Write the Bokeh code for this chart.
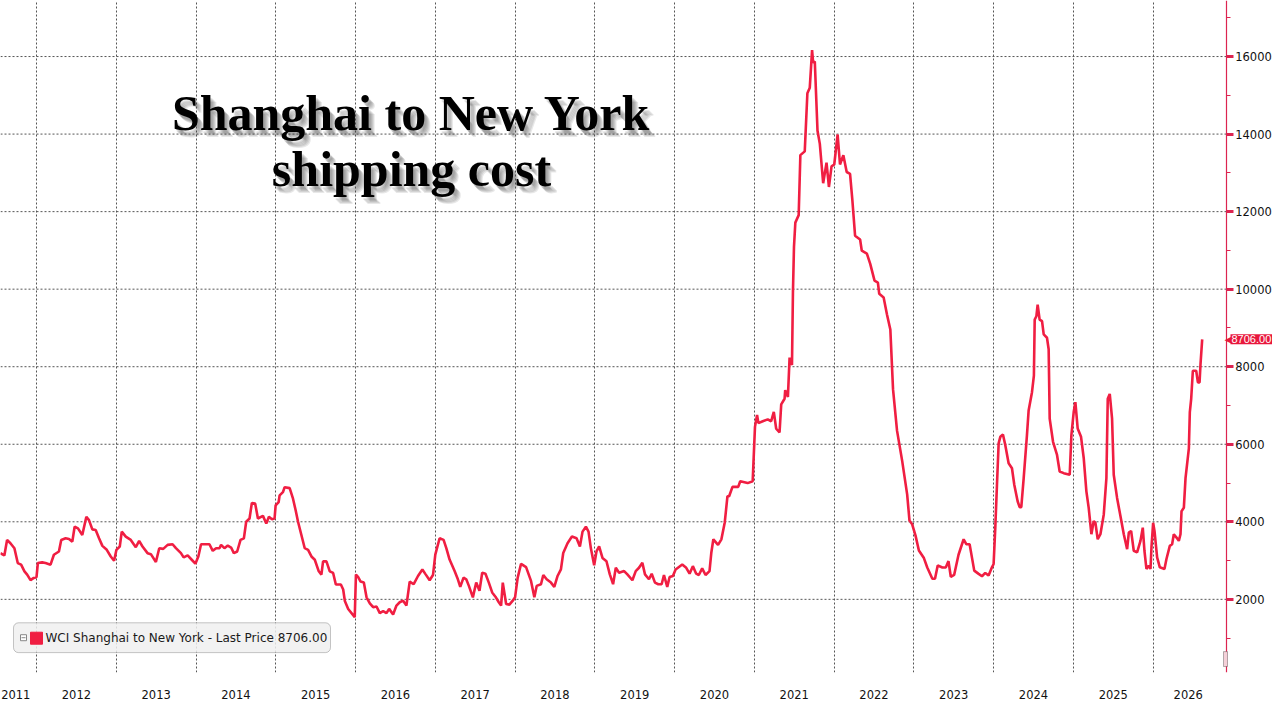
from bokeh.plotting import figure
from bokeh.models import FixedTicker, Range1d, Label, BoxAnnotation
from bokeh.embed import file_html
from bokeh.resources import INLINE
from bokeh.core.properties import value

# ---------------- data (decimal year, USD per FEU) ----------------
years = [
    2011.547, 2011.597, 2011.631, 2011.673, 2011.723, 2011.765, 2011.807, 2011.849, 2011.883, 2011.925,
    2011.966, 2012.000, 2012.017, 2012.071, 2012.113, 2012.176, 2012.218, 2012.281, 2012.310, 2012.365,
    2012.407, 2012.449, 2012.478, 2012.520, 2012.574, 2012.625, 2012.658, 2012.700, 2012.742, 2012.784,
    2012.826, 2012.881, 2012.931, 2012.973, 2013.002, 2013.044, 2013.069, 2013.119, 2013.182, 2013.245,
    2013.287, 2013.329, 2013.392, 2013.434, 2013.497, 2013.539, 2013.589, 2013.644, 2013.706, 2013.748,
    2013.811, 2013.845, 2013.895, 2013.946, 2013.992, 2014.029, 2014.063, 2014.168, 2014.210, 2014.252,
    2014.294, 2014.314, 2014.356, 2014.398, 2014.440, 2014.474, 2014.516, 2014.558, 2014.600, 2014.629,
    2014.671, 2014.700, 2014.742, 2014.776, 2014.839, 2014.881, 2014.914, 2014.952, 2014.985, 2014.998,
    2015.036, 2015.048, 2015.090, 2015.111, 2015.174, 2015.216, 2015.249, 2015.279, 2015.321, 2015.363,
    2015.405, 2015.447, 2015.489, 2015.539, 2015.572, 2015.593, 2015.635, 2015.677, 2015.719, 2015.753,
    2015.816, 2015.845, 2015.866, 2015.908, 2015.990, 2016.005, 2016.033, 2016.063, 2016.104, 2016.138,
    2016.179, 2016.221, 2016.263, 2016.304, 2016.346, 2016.388, 2016.421, 2016.471, 2016.513, 2016.554,
    2016.596, 2016.638, 2016.679, 2016.729, 2016.783, 2016.838, 2016.879, 2016.929, 2016.971, 2017.000,
    2017.054, 2017.104, 2017.138, 2017.179, 2017.242, 2017.283, 2017.313, 2017.354, 2017.388, 2017.421,
    2017.471, 2017.513, 2017.554, 2017.588, 2017.629, 2017.671, 2017.713, 2017.754, 2017.796, 2017.825,
    2017.846, 2017.888, 2017.929, 2017.971, 2018.000, 2018.033, 2018.075, 2018.138, 2018.200, 2018.242,
    2018.271, 2018.325, 2018.354, 2018.396, 2018.450, 2018.492, 2018.533, 2018.575, 2018.604, 2018.658,
    2018.713, 2018.771, 2018.813, 2018.846, 2018.888, 2018.921, 2018.950, 2018.992, 2019.021, 2019.054,
    2019.096, 2019.146, 2019.188, 2019.229, 2019.263, 2019.304, 2019.367, 2019.408, 2019.471, 2019.513,
    2019.554, 2019.596, 2019.629, 2019.679, 2019.713, 2019.754, 2019.796, 2019.838, 2019.867, 2019.908,
    2019.938, 2019.979, 2020.013, 2020.096, 2020.146, 2020.188, 2020.229, 2020.271, 2020.304, 2020.346,
    2020.388, 2020.438, 2020.461, 2020.486, 2020.545, 2020.587, 2020.629, 2020.663, 2020.684, 2020.726,
    2020.798, 2020.823, 2020.916, 2020.979, 2021.008, 2021.034, 2021.051, 2021.105, 2021.168, 2021.211,
    2021.244, 2021.274, 2021.316, 2021.337, 2021.379, 2021.387, 2021.421, 2021.442, 2021.472, 2021.484,
    2021.497, 2021.514, 2021.556, 2021.577, 2021.632, 2021.665, 2021.695, 2021.724, 2021.737, 2021.758,
    2021.792, 2021.821, 2021.863, 2021.905, 2021.935, 2021.968, 2022.002, 2022.044, 2022.074, 2022.116,
    2022.158, 2022.200, 2022.229, 2022.263, 2022.326, 2022.347, 2022.411, 2022.453, 2022.507, 2022.549,
    2022.566, 2022.621, 2022.663, 2022.705, 2022.739, 2022.789, 2022.853, 2022.916, 2022.945, 2022.979,
    2023.021, 2023.063, 2023.126, 2023.168, 2023.232, 2023.265, 2023.299, 2023.358, 2023.400, 2023.434,
    2023.463, 2023.505, 2023.560, 2023.624, 2023.657, 2023.699, 2023.728, 2023.757, 2023.812, 2023.854,
    2023.895, 2023.937, 2023.979, 2024.000, 2024.021, 2024.042, 2024.063, 2024.084, 2024.117, 2024.146,
    2024.188, 2024.230, 2024.259, 2024.301, 2024.326, 2024.347, 2024.377, 2024.418, 2024.439, 2024.481,
    2024.505, 2024.515, 2024.536, 2024.552, 2024.577, 2024.607, 2024.628, 2024.669, 2024.690, 2024.703,
    2024.745, 2024.795, 2024.828, 2024.879, 2024.954, 2024.975, 2025.004, 2025.025, 2025.054, 2025.096,
    2025.130, 2025.163, 2025.192, 2025.226, 2025.255, 2025.276, 2025.305, 2025.339, 2025.381, 2025.414,
    2025.431, 2025.456, 2025.485, 2025.506, 2025.548, 2025.590, 2025.632, 2025.674, 2025.695, 2025.724,
    2025.757, 2025.799, 2025.841, 2025.870, 2025.891, 2025.916, 2025.946, 2025.967, 2025.979, 2026.000,
    2026.017, 2026.050, 2026.084, 2026.142, 2026.167, 2026.209, 2026.238, 2026.259, 2026.293, 2026.322,
    2026.343, 2026.356, 2026.385, 2026.406, 2026.448, 2026.460, 2026.477, 2026.498, 2026.540, 2026.561,
    2026.582, 2026.594, 2026.615,
]
price = [
    3191, 3132, 3532, 3447, 3319, 2936, 2894, 2723, 2638, 2494,
    2553, 2570, 2936, 2953, 2936, 2894, 3149, 3234, 3532, 3574,
    3557, 3489, 3872, 3830, 3659, 4128, 4042, 3804, 3787, 3574,
    3379, 3277, 3106, 2996, 3277, 3362, 3745, 3617, 3532, 3345,
    3506, 3362, 3191, 3166, 2962, 3319, 3302, 3404, 3421, 3319,
    3191, 3081, 3132, 3021, 2919, 3106, 3421, 3421, 3251, 3319,
    3319, 3404, 3319, 3387, 3336, 3191, 3234, 3532, 3574, 4000,
    4085, 4485, 4468, 4085, 4153, 3957, 4128, 4068, 4085, 4425,
    4510, 4681, 4766, 4893, 4868, 4596, 4298, 4000, 3659, 3319,
    3277, 3106, 3021, 2723, 2638, 2979, 2979, 2723, 2681, 2383,
    2383, 2255, 1957, 1750, 1540, 2640, 2576, 2458, 2432, 2051,
    1898, 1797, 1814, 1644, 1695, 1644, 1754, 1610, 1839, 1924,
    1966, 1839, 2458, 2390, 2602, 2771, 2644, 2492, 2627, 3153,
    3576, 3534, 3322, 3025, 2729, 2517, 2322, 2559, 2517, 2347,
    2051, 2432, 2220, 2686, 2661, 2432, 2178, 2068, 1924, 1839,
    2432, 1881, 1864, 1966, 2051, 2559, 2915, 2831, 2475, 2051,
    2347, 2390, 2627, 2517, 2432, 2322, 2602, 2771, 3195, 3449,
    3619, 3576, 3364, 3746, 3873, 3746, 3322, 2881, 3237, 3364,
    3068, 2983, 2644, 2390, 2814, 2686, 2729, 2644, 2492, 2729,
    2814, 2941, 2644, 2517, 2661, 2432, 2390, 2390, 2627, 2322,
    2576, 2602, 2771, 2898, 2814, 2661, 2856, 2661, 2627, 2797,
    2627, 2729, 3209, 3548, 3403, 3548, 3983, 4660, 4660, 4901,
    4901, 5046, 4998, 5046, 6448, 6758, 6545, 6593, 6641, 6593,
    6835, 6400, 6303, 7028, 7173, 7395, 7221, 8237, 8043, 9929,
    11089, 11717, 11910, 13457, 13554, 15053, 15198, 16164, 15845, 15874,
    14086, 13747, 12732, 13264, 12636, 13168, 13216, 13989, 13216, 13457,
    13022, 12974, 12297, 11379, 11282, 10992, 10915, 10654, 10219, 10170,
    9880, 9784, 9349, 8962, 7415, 6351, 5578, 4708, 4031, 3935,
    3644, 3258, 3064, 2822, 2532, 2532, 2871, 2822, 2822, 2987,
    2581, 2629, 3150, 3550, 3422, 3422, 3082, 2741, 2656, 2596,
    2681, 2613, 2826, 2911, 3849, 4956, 6021, 6192, 6251, 5979,
    5510, 5382, 4956, 4530, 4377, 4377, 5127, 6234, 6873, 7342,
    7768, 9216, 9301, 9600, 9216, 9174, 8833, 8748, 8449, 6660,
    6064, 5723, 5297, 5255, 5212, 6234, 6831, 7086, 6405, 6192,
    5638, 4786, 4360, 3679, 4019, 3976, 3550, 3679, 4189, 5127,
    7172, 7299, 6660, 5212, 4616, 4147, 3679, 3295, 3721, 3764,
    3253, 3210, 3508, 3849, 3253, 2784, 2869, 2784, 3338, 3976,
    3764, 3082, 2826, 2784, 3039, 3380, 3422, 3679, 3593, 3508,
    3679, 4275, 4360, 5127, 5894, 6831, 7172, 7896, 7896, 7597,
    7597, 8066, 8706,
]
year_labels = ["2011", "2012", "2013", "2014", "2015", "2016", "2017", "2018",
               "2019", "2020", "2021", "2022", "2023", "2024", "2025", "2026"]
year_label_pos = [2011.74, 2012.5, 2013.5, 2014.5, 2015.5, 2016.5, 2017.5, 2018.5,
                  2019.5, 2020.5, 2021.5, 2022.5, 2023.5, 2024.5, 2025.5, 2026.44]
year_starts = list(range(2012, 2027))
y_ticks = [2000, 4000, 6000, 8000, 10000, 12000, 14000, 16000]
y_minor = [1000, 3000, 5000, 7000, 9000, 11000, 13000, 15000, 17000]
last_price = 8706.00
title_lines = ["Shanghai to New York", "shipping cost"]
legend_text = "WCI Shanghai to New York - Last Price 8706.00"

# ---------------- layout ----------------
W, H = 1272, 701
FRAME_W, FRAME_H = 1272, 676
X0, X1 = 2011.5486, 2027.4965
Y0, Y1 = 112.9, 17445.5
AXIS_X = 2026.916          # where the right-hand value axis sits
RED = "#f01e42"
AXIS_RED = "#dc2450"
TAG_RED = "#e8173c"
GRID = "#555555"

def xd(px):   # figure pixel -> data x (decorations only)
    return X0 + px * (X1 - X0) / FRAME_W

def yd(py):   # figure pixel -> data y (decorations only)
    return Y1 - py * (Y1 - Y0) / FRAME_H

p = figure(width=W, height=H, x_range=Range1d(X0, X1), y_range=Range1d(Y0, Y1),
           output_backend="svg", toolbar_location=None, y_axis_location="right",
           min_border_left=0, min_border_top=0, min_border_right=0,
           min_border_bottom=H - FRAME_H)
p.outline_line_color = None
p.background_fill_color = "white"
p.border_fill_color = "white"

# x axis: labels centred in each year, grid at year boundaries
p.xaxis.ticker = FixedTicker(ticks=year_label_pos)
p.xaxis.major_label_overrides = {pos: lab for pos, lab in zip(year_label_pos, year_labels)}
p.xaxis.axis_line_color = None
p.xaxis.major_tick_line_color = None
p.xaxis.minor_tick_line_color = None
p.xaxis.major_label_standoff = 11
p.xaxis.major_label_text_font = "DejaVu Sans"
p.xaxis.major_label_text_font_size = "11.5px"
p.xaxis.major_label_text_color = "#111111"

p.xgrid.ticker = FixedTicker(ticks=year_starts)
p.xgrid.grid_line_color = GRID
p.xgrid.grid_line_dash = "2 2"
p.xgrid.grid_line_width = 1

# horizontal grid lines stop at the value axis
p.ygrid.visible = False
p.segment(x0=[X0] * len(y_ticks), x1=[AXIS_X] * len(y_ticks), y0=y_ticks, y1=y_ticks,
          line_color=GRID, line_dash="2 2", line_width=1)

# y axis drawn at a fixed location inside the figure (right side)
p.yaxis.fixed_location = AXIS_X
p.yaxis.ticker = FixedTicker(ticks=y_ticks, minor_ticks=y_minor)
p.yaxis.axis_line_color = AXIS_RED
p.yaxis.axis_line_width = 1.2
p.yaxis.major_tick_line_color = AXIS_RED
p.yaxis.major_tick_line_width = 3
p.yaxis.major_tick_out = 7
p.yaxis.major_tick_in = 0
p.yaxis.minor_tick_line_color = AXIS_RED
p.yaxis.minor_tick_out = 4
p.yaxis.minor_tick_in = 0
p.yaxis.major_label_standoff = 2
p.yaxis.major_label_text_font = "DejaVu Sans"
p.yaxis.major_label_text_font_size = "11.5px"
p.yaxis.major_label_text_color = "#111111"

# series
p.line(years, price, line_color=RED, line_width=2.6)

# title with soft drop shadow
tx = xd(411)
ty = [yd(113), yd(169)]
for dx, dy in [(2, 3), (3, 4), (4, 5), (5, 6), (6, 7)]:
    p.text(x=[tx, tx], y=ty, text=title_lines, x_offset=dx, y_offset=dy,
           text_align="center", text_baseline="alphabetic",
           text_font=value("Liberation Serif"), text_font_style="bold",
           text_font_size="50px", text_color="#444444", text_alpha=0.12)
p.text(x=[tx, tx], y=ty, text=title_lines, text_align="center", text_baseline="alphabetic",
       text_font=value("Liberation Serif"), text_font_style="bold",
       text_font_size="50px", text_color="#000000")

# legend box
p.add_layout(BoxAnnotation(left=xd(13), right=xd(330), top=yd(626), bottom=yd(656),
                           fill_color="#f0f0f0", fill_alpha=0.85, line_color="#444444",
                           line_width=1, border_radius=5))
p.add_layout(Label(x=xd(45), y=yd(641.5), text=legend_text, text_baseline="middle",
                   text_font="DejaVu Sans", text_font_size="12px", text_color="#1a1a1a"))
icon = p.scatter(x=[xd(23)], y=[yd(641)], marker="square", size=6,
                 fill_color="white", line_color="#888888", line_width=1)
icon.level = "overlay"
dash = p.scatter(x=[xd(23)], y=[yd(641)], marker="dash", size=4, line_color="#888888")
dash.level = "overlay"
sq = p.scatter(x=[xd(36)], y=[yd(641.5)], marker="square", size=12,
               fill_color=RED, line_color=RED)
sq.level = "overlay"

# last price tag on the axis
p.add_layout(Label(x=xd(1224), y=last_price, text="\u25C0", text_baseline="middle",
                   text_font="DejaVu Sans", text_font_size="11px", text_color=TAG_RED))
p.add_layout(Label(x=xd(1230), y=last_price, text=f"{last_price:.2f}", text_baseline="middle",
                   text_font="Liberation Sans", text_font_size="11px", text_color="white",
                   background_fill_color=TAG_RED, padding=1))

# small range marker on the axis
p.add_layout(BoxAnnotation(left=xd(1223), right=xd(1227), top=yd(655), bottom=yd(670),
                           fill_color="#f4d0d8", fill_alpha=1, line_color="#111111", line_width=1))

open("out.html", "w").write(file_html(p, INLINE))
